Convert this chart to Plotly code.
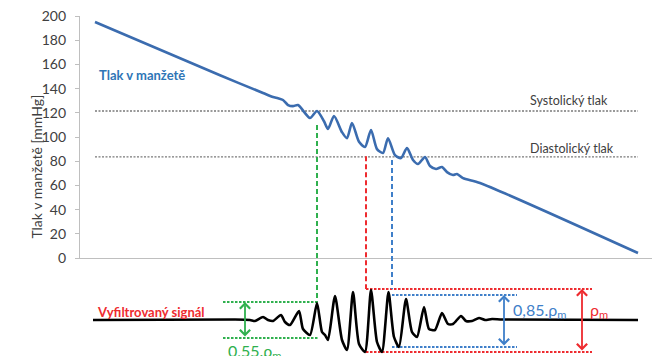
import plotly.graph_objects as go

# ---------------- data ----------------
# cuff pressure (time in s, pressure in mmHg)
cuff_t = [1.5, 14.0, 18.3, 19.3, 19.8, 20.3, 20.8, 21.3, 21.8, 23.0, 23.7, 24.4, 24.8,
          25.4, 26.2, 26.7, 27.2, 27.9, 28.5, 29.1, 29.7, 30.3, 30.8, 31.5, 32.1, 32.7,
          33.3, 33.8, 34.5, 35.0, 35.6, 36.2, 36.7, 37.3, 37.7, 38.3, 40.0, 55.8]
cuff_p = [195, 151, 136.4, 133.0, 132.0, 130.6, 126.4, 125.5, 126.4, 115.7, 121.5, 113, 106.6,
          117.4, 104, 99, 111.6, 96, 91.7, 105.8, 90, 86.8, 99, 85, 82.6, 90.9,
          81, 77.7, 83.5, 76, 73.6, 75.2, 71, 68.6, 69.4, 66, 62, 4.1]

systolic = 121.5
diastolic = 83.5
ref_t = [1.5, 55.8]

# filtered oscillometric signal (time in s, amplitude)
sig_t = [1.3, 15.5, 17.0, 17.5, 18.3, 18.8, 19.3, 20.1, 20.5, 21.0, 21.9, 22.3, 23.0,
         23.7, 24.2, 24.5, 24.8, 25.5, 26.2, 26.7, 27.3, 27.9, 28.5, 29.1, 29.7, 30.2,
         30.85, 31.4, 31.9, 32.6, 33.2, 33.7, 34.4, 34.9, 35.5, 36.2, 36.8, 37.3, 38.1,
         38.6, 39.2, 39.9, 40.5, 41.2, 42.2, 55.8]
sig_v = [0, 0.05, 0, -0.1, 0.3, 0, -0.1, 0.5, -0.2, -0.5, 0.9, -0.9, -1.5,
         1.7, -1.2, -1.5, -2.0, 2.4, -2.0, -3.0, 2.8, -2.4, -3.2, 3.0, -2.2, -3.2,
         2.8, -1.7, -2.7, 2.1, -1.2, -1.7, 1.3, -0.9, -1.0, 0.7, -0.4, -0.4, 0.4,
         -0.1, -0.1, 0.2, 0, 0.1, 0.05, 0]

# amplitude levels (top, bottom) and spans
green_lv = [1.8, -1.8]
green_span = [14.3, 23.8]
green_arrow_t = 16.5
blue_lv = [2.5, -2.7]
blue_span = [31.2, 43.7]
blue_arrow_t = 42.4
red_lv = [3.1, -3.2]
red_span = [28.6, 51.2]
red_arrow_t = 50.2

# vertical markers: (time, start pressure, end amplitude)
green_mark = (23.7, 110, 1.8)
red_mark = (28.6, 84, 3.1)
blue_mark = (31.2, 81, 3.1)

yticks = list(range(0, 201, 20))

# ---------------- styling ----------------
BLUE_LINE = "#3b6caf"
BLUE_TXT = "#2e75b6"
RED = "#ee2b2f"
GREEN = "#2fb04e"
BLUE2 = "#3f7fc9"
GRAY = "#7a7a7a"
AX = "#bfbfbf"
TXT = "#404040"
FONT = "Lato"

TOP_DOM = [0.2882, 1.0]
YR = [0, 200]
BOT_DOM = [0.0, 0.25]
Y2R = [-3.6, 4.9]
XR = [0, 57.2]


def paper_top(v):
    return TOP_DOM[0] + (v - YR[0]) / (YR[1] - YR[0]) * (TOP_DOM[1] - TOP_DOM[0])


def paper_bot(v):
    return BOT_DOM[0] + (v - Y2R[0]) / (Y2R[1] - Y2R[0]) * (BOT_DOM[1] - BOT_DOM[0])


fig = go.Figure()

# reference dotted lines
for lvl in (systolic, diastolic):
    fig.add_trace(go.Scatter(x=ref_t, y=[lvl, lvl], mode="lines",
                             line=dict(color=GRAY, width=1.3, dash="2px,1.5px"),
                             xaxis="x", yaxis="y", hoverinfo="skip"))

fig.add_trace(go.Scatter(x=cuff_t, y=cuff_p, mode="lines",
                         line=dict(color=BLUE_LINE, width=2.6, shape="spline", smoothing=0.7),
                         xaxis="x", yaxis="y"))

# bottom level lines
for lv, span, col in ((green_lv, green_span, GREEN), (blue_lv, blue_span, BLUE2),
                      (red_lv, red_span, RED)):
    for v in lv:
        fig.add_trace(go.Scatter(x=span, y=[v, v], mode="lines",
                                 line=dict(color=col, width=1.8, dash="2.5px,1.5px"),
                                 xaxis="x2", yaxis="y2", hoverinfo="skip"))

fig.add_trace(go.Scatter(x=sig_t, y=sig_v, mode="lines",
                         line=dict(color="black", width=2.6, shape="spline", smoothing=0.6),
                         xaxis="x2", yaxis="y2"))

shapes = []
for (t, p0, a1), col in ((green_mark, GREEN), (red_mark, RED), (blue_mark, BLUE2)):
    shapes.append(dict(type="line", xref="x", yref="paper", x0=t, x1=t,
                       y0=paper_top(p0), y1=paper_bot(a1),
                       line=dict(color=col, width=2, dash="5px,3px")))

annotations = []
for t, lv, col in ((green_arrow_t, green_lv, GREEN), (blue_arrow_t, blue_lv, BLUE2),
                   (red_arrow_t, red_lv, RED)):
    annotations.append(dict(x=t, y=lv[0], ax=t, ay=lv[1], xref="x2", yref="y2",
                            axref="x2", ayref="y2", text="", showarrow=True,
                            arrowhead=4, arrowside="end+start", arrowsize=1.1,
                            arrowwidth=1.8, arrowcolor=col, standoff=0, startstandoff=0))

annotations += [
    dict(text="Tlak v manžetě", x=1.7, y=151, xref="x", yref="y", xanchor="left",
         showarrow=False, font=dict(family=FONT, size=13, color=BLUE_TXT, weight="bold")),
    dict(text="Systolický tlak", x=44.8, y=130, xref="x", yref="y", xanchor="left",
         showarrow=False, font=dict(family=FONT, size=12.5, color=TXT)),
    dict(text="Diastolický tlak", x=44.8, y=90.5, xref="x", yref="y", xanchor="left",
         showarrow=False, font=dict(family=FONT, size=12.5, color=TXT)),
    dict(text="čas", x=52.8, y=-10.7, xref="x", yref="y", xanchor="left",
         showarrow=False, font=dict(family=FONT, size=12.5, color=TXT)),
    dict(text="Vyfiltrovaný signál", x=1.5, y=0.8, xref="x2", yref="y2", xanchor="left",
         showarrow=False, font=dict(family=FONT, size=13, color=RED, weight="bold")),
    dict(text="0,85.ρ<sub>m</sub>", x=43.1, y=1.0, xref="x2", yref="y2", xanchor="left",
         showarrow=False, font=dict(family=FONT, size=16, color=BLUE2)),
    dict(text="ρ<sub>m</sub>", x=50.8, y=1.0, xref="x2", yref="y2", xanchor="left",
         showarrow=False, font=dict(family=FONT, size=16, color=RED)),
    dict(text="0,55.ρ<sub>m</sub>", x=14.6, y=-3.1, xref="x2", yref="y2", xanchor="left",
         showarrow=False, font=dict(family=FONT, size=16, color=GREEN)),
    dict(text="Tlak v manžetě [mmHg]", x=-0.096, y=(356 - 167) / 340, xref="paper",
         yref="paper", textangle=-90, showarrow=False,
         font=dict(family=FONT, size=14, color=TXT)),
]

fig.update_layout(
    width=660, height=356,
    margin=dict(l=80, r=8, t=16, b=0, autoexpand=False),
    paper_bgcolor="white", plot_bgcolor="white",
    showlegend=False,
    shapes=shapes, annotations=annotations,
    xaxis=dict(domain=[0, 1], range=XR, anchor="y", showline=True, linecolor=AX,
               linewidth=1.2, showticklabels=False, ticks="", showgrid=False,
               zeroline=False),
    yaxis=dict(domain=TOP_DOM, range=YR, anchor="x", tickvals=yticks, ticks="outside",
               ticklen=4, tickcolor=AX, showline=True, linecolor=AX, linewidth=1.2,
               showgrid=False, zeroline=False, ticklabelstandoff=6,
               tickfont=dict(family=FONT, size=14, color=TXT)),
    xaxis2=dict(domain=[0, 1], range=XR, anchor="y2", visible=False),
    yaxis2=dict(domain=BOT_DOM, range=Y2R, anchor="x2", visible=False),
)

fig.write_html("out.html")
